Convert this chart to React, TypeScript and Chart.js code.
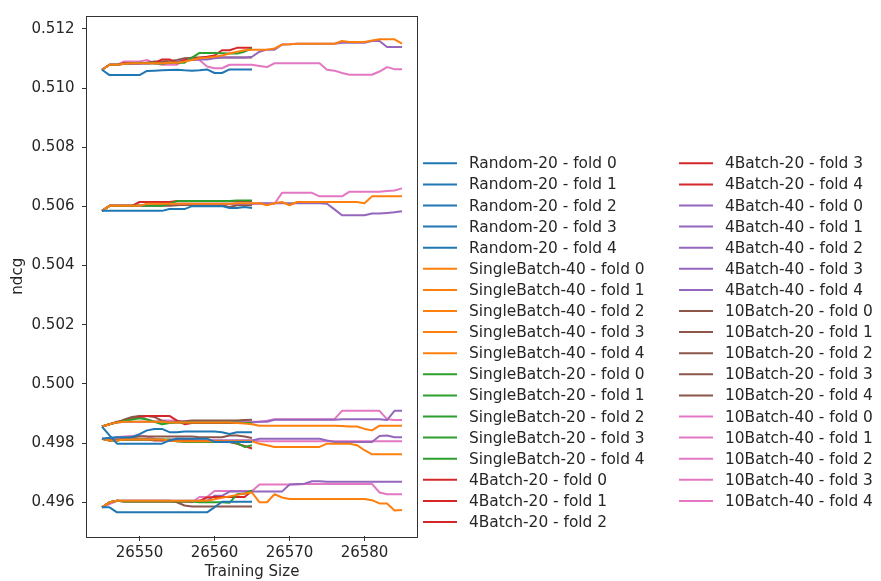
import React, { useEffect, useRef } from "react";
import { Chart, registerables } from "chart.js";

Chart.register(...registerables);

// Training set sizes along the x axis (20-step runs stop at 26565)
const trainingSizes = [
  26545, 26546, 26547, 26548, 26549, 26550, 26551, 26552, 26553, 26554,
  26555, 26556, 26557, 26558, 26559, 26560, 26561, 26562, 26563, 26564,
  26565, 26566, 26567, 26568, 26569, 26570, 26571, 26572, 26573, 26574,
  26575, 26576, 26577, 26578, 26579, 26580, 26581, 26582, 26583, 26584,
  26585,
];

const xTicks = [26550, 26560, 26570, 26580];
const yTicks = [0.496, 0.498, 0.5, 0.502, 0.504, 0.506, 0.508, 0.51, 0.512];
const xRange = [26543, 26587];
const yRange = [0.49486, 0.51242];

const strategyNames = [
  "Random-20",
  "SingleBatch-40",
  "SingleBatch-20",
  "4Batch-20",
  "4Batch-40",
  "10Batch-20",
  "10Batch-40",
];
const strategyColors = ["#1f77b4", "#ff7f0e", "#2ca02c", "#d62728", "#9467bd", "#8c564b", "#e377c2"];

// ndcg per fold, one row per fold (0..4)
const random20 = [
  [0.51062, 0.51044, 0.51044, 0.51044, 0.51044, 0.51044, 0.51058, 0.51059, 0.5106, 0.51061, 0.51062, 0.5106, 0.51059, 0.5106, 0.51063, 0.51051, 0.51051, 0.51063, 0.51063, 0.51063, 0.51063],
  [0.50585, 0.50585, 0.50585, 0.50585, 0.50585, 0.50585, 0.50585, 0.50585, 0.50585, 0.50591, 0.50591, 0.50591, 0.50601, 0.50601, 0.50601, 0.50601, 0.50601, 0.50595, 0.50595, 0.50598, 0.50595],
  [0.49856, 0.49826, 0.49798, 0.49798, 0.49798, 0.49798, 0.49798, 0.49798, 0.49798, 0.49809, 0.49815, 0.49815, 0.49815, 0.49815, 0.49815, 0.49804, 0.49804, 0.49804, 0.49804, 0.49804, 0.49804],
  [0.49815, 0.49818, 0.4982, 0.4982, 0.4982, 0.4983, 0.49843, 0.49848, 0.49848, 0.49837, 0.49837, 0.49839, 0.49839, 0.49839, 0.49839, 0.49839, 0.49837, 0.49831, 0.49837, 0.49837, 0.49837],
  [0.49583, 0.49583, 0.49566, 0.49566, 0.49566, 0.49566, 0.49566, 0.49566, 0.49566, 0.49566, 0.49566, 0.49566, 0.49566, 0.49566, 0.49566, 0.49583, 0.49602, 0.49602, 0.49602, 0.49602, 0.49602],
];

const singleBatch40 = [
  [0.51062, 0.51079, 0.51079, 0.51082, 0.51084, 0.51084, 0.51084, 0.51084, 0.51084, 0.51086, 0.51086, 0.5109, 0.51095, 0.51101, 0.51103, 0.51106, 0.5111, 0.51117, 0.51123, 0.51128, 0.5113,
   0.5113, 0.5113, 0.51134, 0.51147, 0.51148, 0.5115, 0.5115, 0.5115, 0.5115, 0.5115, 0.5115, 0.51159, 0.51156, 0.51156, 0.51156, 0.51161, 0.51165, 0.51165, 0.51165, 0.5115],
  [0.50585, 0.50602, 0.50602, 0.50602, 0.50602, 0.50602, 0.50609, 0.50609, 0.50609, 0.50609, 0.50609, 0.50609, 0.50609, 0.50609, 0.50609, 0.50609, 0.50609, 0.50609, 0.50611, 0.50611, 0.50611,
   0.50611, 0.50604, 0.50611, 0.50615, 0.50604, 0.50615, 0.50615, 0.50615, 0.50615, 0.50615, 0.50615, 0.50615, 0.50615, 0.50615, 0.50611, 0.50634, 0.50634, 0.50634, 0.50634, 0.50634],
  [0.49856, 0.49864, 0.4987, 0.49872, 0.49872, 0.49872, 0.49872, 0.49872, 0.49872, 0.4987, 0.4987, 0.4987, 0.4987, 0.4987, 0.4987, 0.4987, 0.4987, 0.4987, 0.49868, 0.49866, 0.49864,
   0.49859, 0.49859, 0.49859, 0.49859, 0.49859, 0.49859, 0.49859, 0.49859, 0.49859, 0.49859, 0.49859, 0.49858, 0.49856, 0.49856, 0.49848, 0.49843, 0.49859, 0.49859, 0.49859, 0.49859],
  [0.49815, 0.49809, 0.49809, 0.49812, 0.49812, 0.49812, 0.49812, 0.49812, 0.49812, 0.49809, 0.49806, 0.49806, 0.49806, 0.49806, 0.49806, 0.49806, 0.49806, 0.49806, 0.49806, 0.49806, 0.49806,
   0.49798, 0.49793, 0.49787, 0.49787, 0.49787, 0.49787, 0.49787, 0.49787, 0.49787, 0.49798, 0.49798, 0.49798, 0.49798, 0.49793, 0.49776, 0.49762, 0.49762, 0.49762, 0.49762, 0.49762],
  [0.49583, 0.496, 0.49605, 0.49605, 0.49605, 0.49605, 0.49605, 0.49605, 0.49605, 0.49605, 0.49605, 0.49605, 0.49605, 0.49605, 0.49605, 0.4961, 0.49615, 0.4962, 0.49625, 0.4963, 0.49633,
   0.496, 0.496, 0.49627, 0.49616, 0.49611, 0.49611, 0.49611, 0.49611, 0.49611, 0.49611, 0.49611, 0.49611, 0.49611, 0.49611, 0.49611, 0.49607, 0.49596, 0.49596, 0.49572, 0.49574],
];

const singleBatch20 = [
  [0.51062, 0.51079, 0.51079, 0.51082, 0.51084, 0.51086, 0.51084, 0.51084, 0.51082, 0.51086, 0.51086, 0.51086, 0.51103, 0.51119, 0.51119, 0.51119, 0.51118, 0.51117, 0.51117, 0.51123, 0.51134],
  [0.50585, 0.50602, 0.50602, 0.50602, 0.50602, 0.50602, 0.50602, 0.50602, 0.50602, 0.50609, 0.50618, 0.50618, 0.50618, 0.50618, 0.50618, 0.50618, 0.50618, 0.50618, 0.5062, 0.5062, 0.5062],
  [0.49856, 0.49864, 0.4987, 0.49876, 0.4988, 0.49884, 0.4988, 0.49872, 0.49864, 0.49868, 0.4987, 0.4987, 0.4987, 0.4987, 0.4987, 0.4987, 0.4987, 0.4987, 0.4987, 0.49868, 0.49868],
  [0.49815, 0.49809, 0.49809, 0.49812, 0.49812, 0.49812, 0.49812, 0.49812, 0.49812, 0.49812, 0.49806, 0.49804, 0.49804, 0.49804, 0.49804, 0.49804, 0.49804, 0.49804, 0.498, 0.49787, 0.49793],
  [0.49583, 0.496, 0.49605, 0.49603, 0.49603, 0.49603, 0.49603, 0.49603, 0.49603, 0.49603, 0.49603, 0.49603, 0.49603, 0.496, 0.496, 0.496, 0.496, 0.49598, 0.49627, 0.49629, 0.4964],
];

const batch4x20 = [
  [0.51062, 0.51079, 0.51079, 0.51084, 0.51084, 0.51084, 0.51086, 0.51084, 0.51097, 0.51097, 0.51084, 0.51095, 0.51095, 0.51103, 0.51106, 0.5111, 0.51128, 0.51128, 0.51136, 0.51136, 0.51136],
  [0.50585, 0.50602, 0.50602, 0.50602, 0.50602, 0.50615, 0.50615, 0.50615, 0.50615, 0.50615, 0.50618, 0.50618, 0.50618, 0.50618, 0.50618, 0.50618, 0.50618, 0.50618, 0.50618, 0.50618, 0.50618],
  [0.49856, 0.49864, 0.49872, 0.49876, 0.49881, 0.49888, 0.49892, 0.49892, 0.49892, 0.49892, 0.49876, 0.49864, 0.49868, 0.49868, 0.49868, 0.49868, 0.49868, 0.49868, 0.49868, 0.49868, 0.49868],
  [0.49815, 0.49809, 0.49812, 0.49812, 0.49812, 0.49812, 0.49812, 0.49809, 0.49809, 0.49809, 0.49809, 0.49809, 0.49809, 0.49806, 0.49806, 0.49806, 0.49806, 0.49804, 0.49798, 0.4979, 0.49782],
  [0.49583, 0.496, 0.49605, 0.49603, 0.49603, 0.49603, 0.49603, 0.49603, 0.49603, 0.49603, 0.49603, 0.49603, 0.49603, 0.49605, 0.49616, 0.49618, 0.49618, 0.49618, 0.49618, 0.49618, 0.49638],
];

const batch4x40 = [
  [0.51062, 0.51079, 0.51079, 0.51082, 0.51082, 0.51082, 0.51082, 0.51084, 0.51084, 0.51086, 0.5109, 0.51095, 0.51097, 0.51097, 0.51097, 0.51101, 0.51103, 0.51103, 0.51103, 0.51103, 0.51106,
   0.51123, 0.5113, 0.5113, 0.51147, 0.51148, 0.5115, 0.5115, 0.5115, 0.5115, 0.5115, 0.5115, 0.51153, 0.51153, 0.51153, 0.51153, 0.51159, 0.51159, 0.51139, 0.51139, 0.51139],
  [0.50585, 0.50602, 0.50602, 0.50602, 0.50602, 0.50602, 0.50602, 0.50602, 0.50609, 0.50609, 0.50609, 0.50609, 0.50609, 0.50609, 0.50609, 0.50609, 0.50609, 0.50609, 0.50609, 0.50609, 0.50609,
   0.50611, 0.50611, 0.50611, 0.50611, 0.50611, 0.50611, 0.50611, 0.50611, 0.50611, 0.50609, 0.5059, 0.5057, 0.5057, 0.5057, 0.5057, 0.50576, 0.50576, 0.50578, 0.5058, 0.50584],
  [0.49856, 0.49864, 0.4987, 0.49872, 0.49872, 0.49872, 0.49872, 0.49872, 0.49872, 0.4987, 0.4987, 0.4987, 0.4987, 0.4987, 0.4987, 0.4987, 0.4987, 0.4987, 0.4987, 0.4987, 0.4987,
   0.49872, 0.49872, 0.49879, 0.49879, 0.49879, 0.49879, 0.49879, 0.49879, 0.49879, 0.49879, 0.49879, 0.49881, 0.49881, 0.49881, 0.49881, 0.49881, 0.49881, 0.49878, 0.49909, 0.49909],
  [0.49815, 0.49812, 0.49812, 0.49812, 0.49812, 0.49812, 0.49812, 0.49812, 0.49812, 0.49809, 0.49806, 0.49806, 0.49809, 0.49809, 0.49809, 0.49809, 0.49809, 0.49809, 0.49809, 0.49809, 0.49809,
   0.49815, 0.49815, 0.49815, 0.49815, 0.49815, 0.49815, 0.49815, 0.49815, 0.49815, 0.49809, 0.49804, 0.49804, 0.49804, 0.49804, 0.49804, 0.49804, 0.49824, 0.49826, 0.4982, 0.4982],
  [0.49583, 0.496, 0.49605, 0.49605, 0.49605, 0.49605, 0.49605, 0.49605, 0.49605, 0.49605, 0.49605, 0.49605, 0.49605, 0.49605, 0.49605, 0.49622, 0.49622, 0.49636, 0.49636, 0.49636, 0.49636,
   0.49636, 0.49636, 0.49636, 0.49636, 0.4966, 0.49662, 0.49663, 0.49671, 0.49671, 0.49669, 0.49669, 0.49669, 0.49669, 0.49669, 0.49669, 0.49669, 0.49669, 0.49669, 0.49669, 0.49669],
];

const batch10x20 = [
  [0.51062, 0.51079, 0.51079, 0.51084, 0.51084, 0.51084, 0.51086, 0.5109, 0.5109, 0.51092, 0.51095, 0.51101, 0.51103, 0.51103, 0.51103, 0.51103, 0.51103, 0.51103, 0.51103, 0.51103, 0.51103],
  [0.50585, 0.50602, 0.50602, 0.50602, 0.50602, 0.50602, 0.50602, 0.50602, 0.50602, 0.50602, 0.50604, 0.50606, 0.50604, 0.50604, 0.50604, 0.50604, 0.50604, 0.50598, 0.50604, 0.50604, 0.50604],
  [0.49856, 0.49864, 0.4987, 0.4988, 0.49888, 0.49892, 0.49892, 0.49888, 0.49876, 0.4987, 0.49872, 0.49874, 0.49876, 0.49876, 0.49876, 0.49876, 0.49876, 0.49876, 0.49876, 0.49878, 0.49879],
  [0.49815, 0.49809, 0.49809, 0.49815, 0.4982, 0.49822, 0.49822, 0.49822, 0.49822, 0.49822, 0.49822, 0.49822, 0.49822, 0.4982, 0.4982, 0.4982, 0.4982, 0.49826, 0.49826, 0.49822, 0.49817],
  [0.49583, 0.496, 0.49605, 0.49605, 0.49605, 0.49605, 0.49605, 0.49605, 0.49605, 0.49605, 0.496, 0.49589, 0.49586, 0.49586, 0.49586, 0.49586, 0.49586, 0.49586, 0.49586, 0.49586, 0.49586],
];

const batch10x40 = [
  [0.51062, 0.51079, 0.51079, 0.5109, 0.5109, 0.5109, 0.51095, 0.51084, 0.51079, 0.51079, 0.51079, 0.51095, 0.51095, 0.51095, 0.51073, 0.51067, 0.51067, 0.51079, 0.51079, 0.51079, 0.51079,
   0.51075, 0.51071, 0.51084, 0.51084, 0.51084, 0.51084, 0.51084, 0.51084, 0.51084, 0.51062, 0.51059, 0.51051, 0.51045, 0.51045, 0.51045, 0.51045, 0.51056, 0.51071, 0.51064, 0.51064],
  [0.50585, 0.50602, 0.50602, 0.50602, 0.50602, 0.50602, 0.50602, 0.50604, 0.50609, 0.50609, 0.50609, 0.50609, 0.50609, 0.50609, 0.50609, 0.50609, 0.50609, 0.50609, 0.50609, 0.50609, 0.50609,
   0.50609, 0.50609, 0.50609, 0.50646, 0.50646, 0.50646, 0.50646, 0.50646, 0.50634, 0.50634, 0.50634, 0.50634, 0.5065, 0.5065, 0.5065, 0.5065, 0.5065, 0.50652, 0.50654, 0.50661],
  [0.49856, 0.49864, 0.4987, 0.49876, 0.49884, 0.49892, 0.4988, 0.49872, 0.49876, 0.49876, 0.49876, 0.49872, 0.49872, 0.49872, 0.49872, 0.49872, 0.49872, 0.49872, 0.49872, 0.49872, 0.49872,
   0.49872, 0.49876, 0.49881, 0.49881, 0.49881, 0.49881, 0.49881, 0.49881, 0.49881, 0.49881, 0.49881, 0.49909, 0.49909, 0.49909, 0.49909, 0.49909, 0.49909, 0.49881, 0.49878, 0.49878],
  [0.49815, 0.49815, 0.4982, 0.49822, 0.49824, 0.49826, 0.49822, 0.49815, 0.49809, 0.49812, 0.49815, 0.49815, 0.49809, 0.49809, 0.49809, 0.49809, 0.49809, 0.49809, 0.49809, 0.49809, 0.49809,
   0.49806, 0.49806, 0.49806, 0.49806, 0.49806, 0.49806, 0.49806, 0.49806, 0.49806, 0.49806, 0.49806, 0.49806, 0.49806, 0.49806, 0.49806, 0.49806, 0.49806, 0.49806, 0.49806, 0.49806],
  [0.49583, 0.49594, 0.49605, 0.49603, 0.49603, 0.49603, 0.49603, 0.49603, 0.49603, 0.49603, 0.49603, 0.49603, 0.496, 0.49618, 0.49618, 0.49638, 0.49638, 0.49638, 0.49638, 0.49638, 0.49638,
   0.4966, 0.4966, 0.4966, 0.4966, 0.4966, 0.4966, 0.49662, 0.49662, 0.49662, 0.49662, 0.49662, 0.49662, 0.49662, 0.49662, 0.49662, 0.49662, 0.49633, 0.49627, 0.49627, 0.49627],
];

const strategyRuns = [random20, singleBatch40, singleBatch20, batch4x20, batch4x40, batch10x20, batch10x40];

const FONT_FAMILY = '"DejaVu Sans", "Liberation Sans", sans-serif';
const TEXT_COLOR = "#262626";
const FONT_SIZE = 15;
const LEGEND_FONT_SIZE = 15.4;

// Two-column legend placed to the right of the axes, bottom-aligned with them
const foldLegend = {
  id: "foldLegend",
  afterDraw(chart: Chart) {
    const { ctx, chartArea } = chart;
    const datasets = chart.data.datasets;
    const perColumn = Math.ceil(datasets.length / 2);
    const rowGap = 21.1;
    const firstY = chartArea.bottom - 14 - (perColumn - 1) * rowGap;
    ctx.save();
    ctx.font = `${LEGEND_FONT_SIZE}px ${FONT_FAMILY}`;
    ctx.textBaseline = "middle";
    ctx.textAlign = "left";
    datasets.forEach((ds: any, i: number) => {
      const col = Math.floor(i / perColumn);
      const row = i % perColumn;
      const x = chartArea.right + 6 + col * 256;
      const y = firstY + row * rowGap;
      ctx.strokeStyle = ds.borderColor;
      ctx.lineWidth = 2;
      ctx.beginPath();
      ctx.moveTo(x, y);
      ctx.lineTo(x + 34, y);
      ctx.stroke();
      ctx.fillStyle = TEXT_COLOR;
      ctx.fillText(ds.label, x + 46, y + 1);
    });
    ctx.restore();
  },
};

// Box around the plotting area
const axesFrame = {
  id: "axesFrame",
  afterDatasetsDraw(chart: Chart) {
    const { ctx, chartArea } = chart;
    ctx.save();
    ctx.strokeStyle = "#333";
    ctx.lineWidth = 1;
    ctx.strokeRect(
      Math.round(chartArea.left) - 0.5,
      Math.round(chartArea.top) - 0.5,
      Math.round(chartArea.right - chartArea.left) + 1,
      Math.round(chartArea.bottom - chartArea.top) + 1
    );
    ctx.restore();
  },
};

export default function App() {
  const canvasRef = useRef<HTMLCanvasElement | null>(null);

  useEffect(() => {
    if (!canvasRef.current) return;
    const datasets: any[] = [];
    strategyRuns.forEach((runs, s) => {
      runs.forEach((values, fold) => {
        datasets.push({
          label: `${strategyNames[s]} - fold ${fold}`,
          data: values.map((v, i) => ({ x: trainingSizes[i], y: v })),
          borderColor: strategyColors[s],
          backgroundColor: strategyColors[s],
          borderWidth: 2,
          pointRadius: 0,
          tension: 0,
          fill: false,
          borderJoinStyle: "round",
        });
      });
    });

    const chart = new Chart(canvasRef.current, {
      type: "line",
      data: { datasets },
      options: {
        animation: false,
        responsive: false,
        maintainAspectRatio: false,
        layout: { padding: { top: 6, right: 464, bottom: 0, left: 0 } },
        plugins: {
          legend: { display: false },
          tooltip: { enabled: false },
        },
        scales: {
          x: {
            type: "linear",
            min: xRange[0],
            max: xRange[1],
            afterBuildTicks: (scale: any) => {
              scale.ticks = xTicks.map((v) => ({ value: v }));
            },
            afterFit: (scale: any) => {
              scale.height = 45;
            },
            grid: { drawOnChartArea: false, drawTicks: true, tickLength: 5, color: "#333" },
            border: { display: false },
            ticks: {
              color: TEXT_COLOR,
              padding: 3,
              maxRotation: 0,
              font: { family: FONT_FAMILY, size: FONT_SIZE },
              callback: (v: any) => String(v),
            },
            title: {
              display: true,
              text: "Training Size",
              color: TEXT_COLOR,
              font: { family: FONT_FAMILY, size: FONT_SIZE },
              padding: { top: 0, bottom: 0 },
            },
          },
          y: {
            type: "linear",
            min: yRange[0],
            max: yRange[1],
            afterBuildTicks: (scale: any) => {
              scale.ticks = yTicks.map((v) => ({ value: v }));
            },
            afterFit: (scale: any) => {
              scale.width = 87;
            },
            grid: { drawOnChartArea: false, drawTicks: true, tickLength: 5, color: "#333" },
            border: { display: false },
            ticks: {
              color: TEXT_COLOR,
              padding: 7.5,
              font: { family: FONT_FAMILY, size: FONT_SIZE },
              callback: (v: any) => Number(v).toFixed(3),
            },
            title: {
              display: true,
              text: "ndcg",
              color: TEXT_COLOR,
              font: { family: FONT_FAMILY, size: FONT_SIZE },
              padding: { top: 9, bottom: 0 },
            },
          },
        },
      },
      plugins: [foldLegend, axesFrame],
    });

    return () => chart.destroy();
  }, []);

  return (
    <div style={{ position: "absolute", left: 0, top: 0, width: 881, height: 581, background: "#fff" }}>
      <canvas ref={canvasRef} width={881} height={581} style={{ display: "block" }} />
    </div>
  );
}
